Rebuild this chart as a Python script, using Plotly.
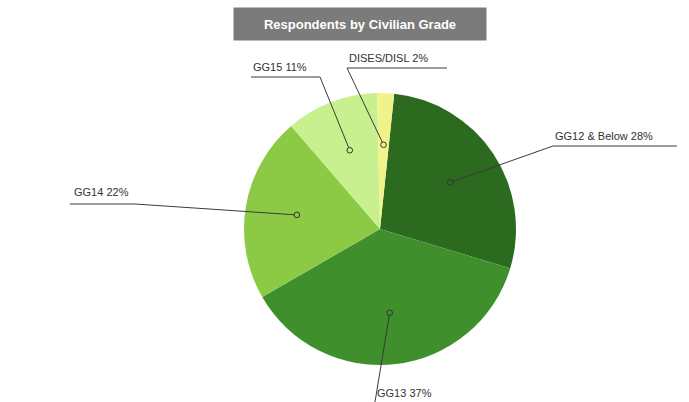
import math
import plotly.graph_objects as go

# Survey respondents by civilian grade (percent)
grades = ["GG12 & Below", "GG13", "GG14", "GG15", "DISES/DISL"]
shares = [28, 37, 22, 11, 2]
colors = ["#2b6a1f", "#3f8f2c", "#8cca45", "#c8f08e", "#f0f28a"]

W, H = 689, 402
CX, CY, R = 380, 229, 136      # pie centre and radius in px
START = 6                      # first slice starts slightly clockwise of 12 o'clock
ANCHOR_FRAC = 0.62             # leader-line anchor radius, fraction of R

# label text position and leader underline geometry
label_pos = {
    "GG12 & Below": dict(tx=553, ty=136, ux0=553, ux1=677, uy=146, elbow="left"),
    "GG13":         dict(tx=375, ty=393, ux0=374, ux1=432, uy=408, elbow="left"),
    "GG14":         dict(tx=72,  ty=192, ux0=70,  ux1=135, uy=204, elbow="right"),
    "GG15":         dict(tx=251, ty=67,  ux0=251, ux1=320, uy=77,  elbow="right"),
    "DISES/DISL":   dict(tx=347, ty=58,  ux0=347, ux1=447, uy=68,  elbow="left"),
}

fig = go.Figure()

fig.add_trace(go.Pie(
    labels=grades, values=shares, sort=False, direction="clockwise",
    rotation=START, marker=dict(colors=colors, line=dict(width=0)),
    textinfo="none", hoverinfo="label+percent", showlegend=False,
    domain=dict(x=[(CX - R) / W, (CX + R) / W],
                y=[(H - CY - R) / H, (H - CY + R) / H]),
))

LINE = dict(color="#3a3a3a", width=1)
total = sum(shares)
cum = 0
for g, v, c in zip(grades, shares, colors):
    mid = math.radians(START + 360 * (cum + v / 2) / total)
    cum += v
    ax = CX + ANCHOR_FRAC * R * math.sin(mid)
    ay = CY - ANCHOR_FRAC * R * math.cos(mid)
    p = label_pos[g]
    ex = p["ux0"] if p["elbow"] == "left" else p["ux1"]
    other = p["ux1"] if p["elbow"] == "left" else p["ux0"]
    # leader line drawn above the pie
    fig.add_shape(type="path", xref="x", yref="y", layer="above", line=LINE,
                  path=f"M{ax},{ay} L{ex},{p['uy']} L{other},{p['uy']}")
    fig.add_shape(type="circle", xref="x", yref="y", layer="above",
                  x0=ax - 2.8, x1=ax + 2.8, y0=ay - 2.8, y1=ay + 2.8,
                  fillcolor=c, line=dict(color="#333333", width=1))
    fig.add_annotation(
        x=p["tx"], y=p["ty"], xref="x", yref="y", xanchor="left", yanchor="middle",
        text=f"{g} {round(100 * v / total)}%", showarrow=False,
        font=dict(family="Liberation Sans, Arial, sans-serif", size=11, color="#333333"),
    )

# title box
fig.add_annotation(
    x=360, y=24, xref="x", yref="y", xanchor="center", yanchor="middle",
    text="<b>Respondents by Civilian Grade</b>", showarrow=False,
    bgcolor="#7b7b7b", width=246, height=26, borderpad=3,
    font=dict(family="Liberation Sans, Arial, sans-serif", size=13, color="#ffffff"),
)

fig.update_xaxes(range=[0, W], visible=False, domain=[0, 1], fixedrange=True)
fig.update_yaxes(range=[H, 0], visible=False, domain=[0, 1], fixedrange=True)
fig.update_layout(
    width=W, height=H, margin=dict(l=0, r=0, t=0, b=0),
    paper_bgcolor="#ffffff", plot_bgcolor="rgba(0,0,0,0)",
)

fig.write_html("out.html")
